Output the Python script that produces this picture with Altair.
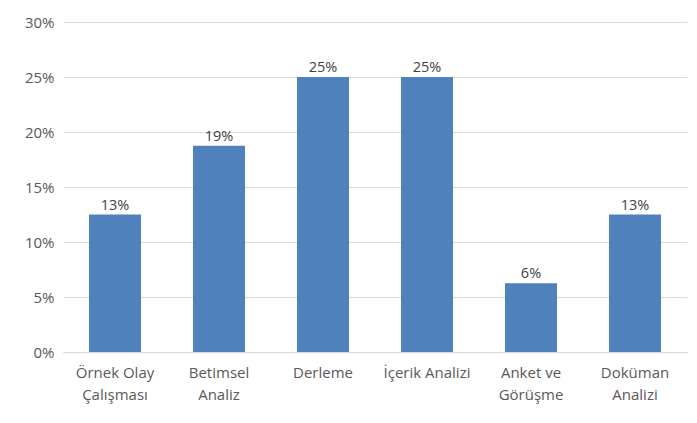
import altair as alt
import pandas as pd

categories = ["Örnek Olay\nÇalışması", "Betimsel\nAnaliz", "Derleme", "İçerik Analizi", "Anket ve\nGörüşme", "Doküman\nAnalizi"]
values = [0.125, 0.1875, 0.25, 0.25, 0.0625, 0.125]

df = pd.DataFrame({"cat": categories, "val": values})

FONT = "Open Sans"

base = alt.Chart(df).encode(
    x=alt.X("cat:N", sort=categories, title=None,
            scale=alt.Scale(paddingInner=0.5, paddingOuter=0.25),
            axis=alt.Axis(labelAngle=0, labelExpr="split(datum.label, '\\n')",
                          ticks=False, domain=True, domainColor="#D9D9D9",
                          labelPadding=13, labelLineHeight=22,
                          labelFont=FONT, labelFontSize=15, labelColor="#595959",
                          labelBaseline="top")),
    y=alt.Y("val:Q", title=None,
            scale=alt.Scale(domain=[0, 0.30]),
            axis=alt.Axis(format=".0%", values=[0, 0.05, 0.10, 0.15, 0.20, 0.25, 0.30],
                          ticks=False, domain=False, gridColor="#D9D9D9",
                          labelPadding=9, labelFont=FONT, labelFontSize=15,
                          labelColor="#595959")),
)

bars = base.mark_bar(color="#4F81BD")
labels = base.mark_text(dy=-9, font=FONT, fontSize=14.5, color="#404040").encode(
    text=alt.Text("val:Q", format=".0%")
)

chart = (bars + labels).properties(
    width=624, height=330,
    background="white",
    autosize=alt.AutoSizeParams(type="none"),
    padding={"left": 55, "top": 14, "right": 2, "bottom": 63},
).configure_view(stroke=None)

chart.save("out.html", embed_options={"renderer": "svg", "actions": False})
